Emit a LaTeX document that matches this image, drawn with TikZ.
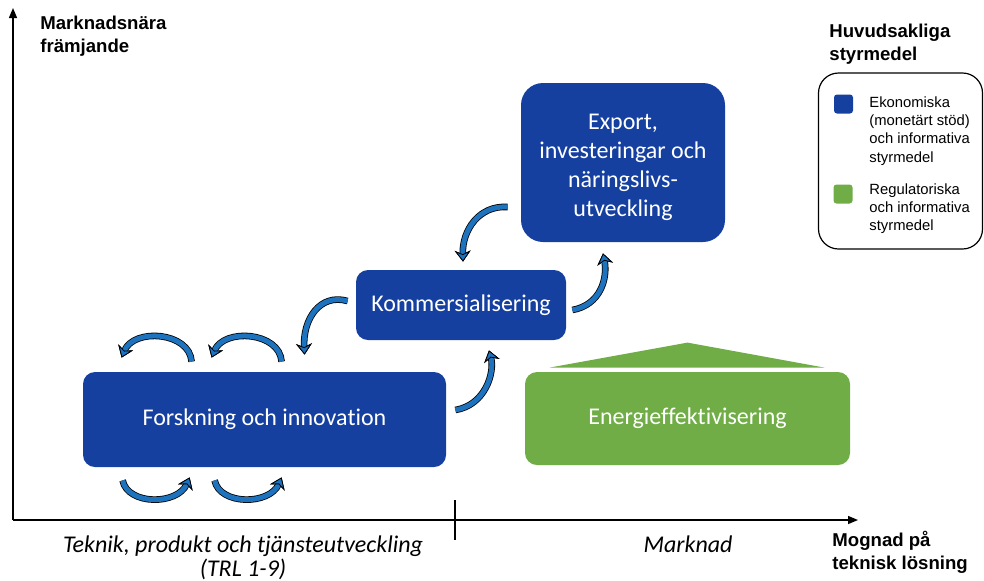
\documentclass[tikz,border=0pt]{standalone}
\usepackage{fontspec}
\setmainfont[Ligatures={NoCommon,NoContextual}, RawFeature=-liga]{Carlito}
\newfontfamily\arialfont{Liberation Sans}
\usepackage{tikz}
\usetikzlibrary{positioning, arrows.meta}

\definecolor{boxblue}{RGB}{21,64,160}
\definecolor{arrowblue}{RGB}{30,115,190}
\definecolor{boxgreen}{RGB}{112,173,71}

\begin{document}
\begin{tikzpicture}[
  x = 0.5pt,
  y = -0.5pt,
  box/.style = {
    rounded corners = 6pt,
    text = white,
    align = center,
    inner sep = 0pt,
    font = \fontsize{12}{14.5}\selectfont
  },
  roundarrow/.style = {
    draw = arrowblue,
    line width = 2.5pt,
    -{Stealth[length=5.5pt, width=8pt, fill=arrowblue, color=black, line width=0.4pt]},
    preaction = {draw = black, line width = 3.3pt}
  },
  axis/.style = {
    line width = 0.7pt,
    -{Triangle[length=5pt, width=4pt]}
  },
  heading/.style = {
    anchor = north west,
    align = left,
    inner sep = 0pt,
    font = \arialfont\bfseries\fontsize{9.3}{11.5}\selectfont
  },
  legendtext/.style = {
    anchor = north west,
    align = left,
    inner sep = 0pt,
    font = \arialfont\fontsize{7.4}{9.2}\selectfont
  },
  axislabel/.style = {
    anchor = north,
    align = center,
    inner sep = 0pt,
    font = \itshape\fontsize{12}{12}\selectfont
  },
  ]
  \useasboundingbox (0, 0) rectangle (984, 580);

  % Axes.
  \coordinate (origin) at (13, 520);
  \coordinate (ytop) at (13, 8);
  \coordinate (xend) at (858, 520);
  \coordinate (split) at (455, 520);
  \draw[axis] (origin) -- (ytop);
  \draw[axis] (origin) -- (xend);
  \draw[line width=0.7pt] ([shift={(0,-20)}]split) -- ([shift={(0,20)}]split);

  % Axis labels.
  \node[heading] (framjande) at (40, 16) {Marknadsnära\\främjande};
  \node[heading] (mognad) at (832, 531) {Mognad på\\teknisk lösning};
  \node[axislabel] (teknik) at (243, 535) {Teknik, produkt och tjänsteutveckling\\(TRL 1-9)};
  \node[axislabel] (marknad) at (688, 535) {Marknad};

  % Boxes.
  \node[box, fill=boxblue, minimum width=181.5pt, minimum height=47.5pt]
    (forskning) at (264.5, 419.5) {Forskning och innovation};
  \node[box, fill=boxblue, minimum width=105pt, minimum height=35pt]
    (komm) at (461, 305) {Kommersialisering};
  \node[box, fill=boxblue, rounded corners=11pt, minimum width=102pt, minimum height=79.5pt]
    (export) at (623, 162.5) {\rule{0pt}{13pt}Export,\\investeringar och\\näringslivs-\\utveckling};
  \node[box, fill=boxgreen, minimum width=162.5pt, minimum height=46.5pt]
    (energi) at (687.5, 418.5) {Energieffektivisering};
  % Roof above the green box.
  \fill[boxgreen] ([shift={(-138,-4)}]energi.north) -- ([shift={(0,-29)}]energi.north)
    -- ([shift={(137,-4)}]energi.north) -- cycle;

  % Loops above and below the research box.
  \foreach \dx in {0,90} {
    \draw[roundarrow] ([shift={(109+\dx,-10)}]forskning.north west)
      .. controls +(-2,-30) and +(12,-30) .. ([shift={(39+\dx,-14)}]forskning.north west);
  }
  \foreach \dx in {0,92} {
    \draw[roundarrow] ([shift={(40+\dx,13)}]forskning.south west)
      .. controls +(5,25) and +(-12,28) .. ([shift={(107+\dx,10)}]forskning.south west);
  }

  % Arrows between the steps.
  \draw[roundarrow] ([shift={(-8,-4)}]komm.west)
    .. controls +(-28,-8) and +(-2,-35) .. ([shift={(222,-17)}]forskning.north west);
  \draw[roundarrow] ([shift={(9,-9.5)}]forskning.east)
    .. controls +(30,-5) and +(6,22) .. ([shift={(28,10)}]komm.south);
  \draw[roundarrow] ([shift={(-13,44.5)}]export.west)
    .. controls +(-28,-2) and +(-1,-32) .. ([shift={(2,-8)}]komm.north);
  \draw[roundarrow] ([shift={(6,5)}]komm.east)
    .. controls +(28,-5) and +(5,25) .. ([shift={(-20,11)}]export.south);

  % Legend.
  \node[heading] (legendhead) at (829, 24) {Huvudsakliga\\styrmedel};
  \node[draw, line width=0.6pt, rounded corners=10pt, minimum width=82pt, minimum height=88pt]
    (legend) at (900.5, 161) {};
  \node[fill=boxblue, rounded corners=1.5pt, minimum size=9.5pt, inner sep=0pt]
    (bluekey) at (843.5, 104) {};
  \node[legendtext] (bluetext) at (869, 96) {Ekonomiska\\(monetärt stöd)\\och informativa\\styrmedel};
  \node[fill=boxgreen, rounded corners=1.5pt, minimum size=9.5pt, inner sep=0pt]
    (greenkey) at (843, 194) {};
  \node[legendtext] (greentext) at (869, 183) {Regulatoriska\\och informativa\\styrmedel};
\end{tikzpicture}
\end{document}
